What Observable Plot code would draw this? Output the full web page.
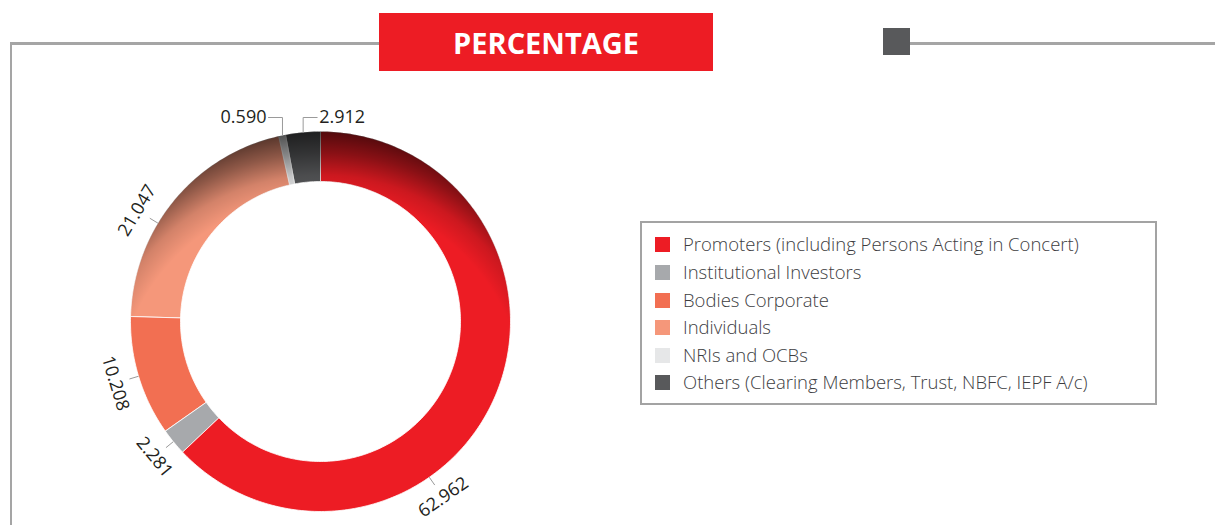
<!DOCTYPE html>
<html>
<head>
<meta charset="utf-8">
<script src="https://cdn.jsdelivr.net/npm/d3@7"></script>
<script src="https://cdn.jsdelivr.net/npm/@observablehq/plot@0.6"></script>
<style>
  body { margin: 0; background: #fff; }
  #wrap { position: relative; width: 1215px; height: 525px; overflow: hidden; background: #fff; font-family: "Open Sans", sans-serif; }
  .abs { position: absolute; }
  #legend { position: absolute; left: 640px; top: 221px; width: 517px; height: 184px; box-sizing: border-box; border: 2px solid #a3a3a3; }
  .row { position: absolute; left: 13px; height: 16px; display: flex; align-items: center; }
  .sw { width: 15px; height: 15px; margin-right: 13px; flex: none; }
  .lt { font-size: 18.5px; font-weight: 300; color: #3d3d3f; white-space: nowrap; line-height: 16px; }
</style>
</head>
<body>
<div id="wrap">
  <div class="abs" style="left:10px;top:42px;width:369px;height:3px;background:#a5a5a5"></div>
  <div class="abs" style="left:910px;top:42px;width:305px;height:3px;background:#a5a5a5"></div>
  <div class="abs" style="left:10px;top:42px;width:2px;height:483px;background:#a5a5a5"></div>
  <div class="abs" style="left:883px;top:28px;width:27px;height:27px;background:#58595b"></div>
  <div class="abs" style="left:379px;top:13px;width:334px;height:58px;background:#ed1c24;display:flex;align-items:center;justify-content:center;">
    <span id="title" style="color:#fff;font-weight:700;font-size:29px;">PERCENTAGE</span>
  </div>
  <div id="chart" class="abs" style="left:0;top:0"></div>
  <div id="legend"></div>
</div>
<script>
// ---- data ----
const categories = [
  "Promoters (including Persons Acting in Concert)",
  "Institutional Investors",
  "Bodies Corporate",
  "Individuals",
  "NRIs and OCBs",
  "Others (Clearing Members, Trust, NBFC, IEPF A/c)"
];
const values = [62.962, 2.281, 10.208, 21.047, 0.590, 2.912];
const valueLabels = ["62.962", "2.281", "10.208", "21.047", "0.590", "2.912"];
const colors = ["#ed1c24", "#a7a9ac", "#f26f52", "#f5977a", "#e6e7e8", "#58595b"];

// ---- layout (pixels) ----
const W = 1215, H = 525, CX = 320, CY = 321, RO = 190, RI = 140;
const inner = RI / RO;
const total = d3.sum(values);

// angles (clockwise from 12 o'clock)
let acc = 0;
const slices = values.map((v, i) => {
  const a0 = acc / total * 2 * Math.PI; acc += v;
  const a1 = acc / total * 2 * Math.PI;
  return {i, name: categories[i], a0, a1};
});

// polygon points of each slice (unit radius = outer)
const slicePts = [];
for (const s of slices) {
  const n = Math.max(2, Math.ceil((s.a1 - s.a0) * 180 / Math.PI));
  for (let k = 0; k <= n; k++) {
    const t = s.a0 + (s.a1 - s.a0) * k / n;
    slicePts.push({name: s.name, x: Math.sin(t), y: Math.cos(t)});
  }
  for (let k = n; k >= 0; k--) {
    const t = s.a0 + (s.a1 - s.a0) * k / n;
    slicePts.push({name: s.name, x: inner * Math.sin(t), y: inner * Math.cos(t)});
  }
}
// full ring for the shading overlay
const ringPts = [];
for (let k = 0; k <= 360; k++) { const t = k * Math.PI / 180; ringPts.push({x: Math.sin(t), y: Math.cos(t)}); }
for (let k = 360; k >= 0; k--) { const t = k * Math.PI / 180; ringPts.push({x: inner * Math.sin(t), y: inner * Math.cos(t)}); }

// labels: radial for the larger slices, elbow leaders for the two small top slices
const labelFrac = {0: 0.64, 3: 0.39};
const elbowSide = {4: -1, 5: 1};
const radialLabels = [], ticks = [], elbows = [], leftLabels = [], rightLabels = [];
const elbowY = (CY - 117) / RO, run = 14 / RO, gap = 2 / RO;
slices.forEach((s, i) => {
  const f = labelFrac[i] ?? 0.5;
  const t = s.a0 + (s.a1 - s.a0) * f;
  const deg = t * 180 / Math.PI;
  if (elbowSide[i]) {
    const x0 = Math.sin(t), y0 = Math.cos(t);
    const dir = elbowSide[i];
    elbows.push({k: i, x: x0, y: y0}, {k: i, x: x0, y: elbowY}, {k: i, x: x0 + dir * run, y: elbowY});
    (dir < 0 ? leftLabels : rightLabels).push({x: x0 + dir * (run + gap), y: elbowY, text: valueLabels[i]});
  } else {
    const rot = deg < 270 ? deg - 180 : deg - 360;
    ticks.push({x1: Math.sin(t), y1: Math.cos(t), x2: 1.05 * Math.sin(t), y2: 1.05 * Math.cos(t)});
    radialLabels.push({x: 1.128 * Math.sin(t), y: 1.128 * Math.cos(t), text: valueLabels[i], rot});
  }
});

const chart = Plot.plot({
  width: W, height: H, margin: 0,
  style: {fontFamily: "'Open Sans', sans-serif", background: "transparent", overflow: "visible"},
  x: {domain: [-CX / RO, (W - CX) / RO], axis: null},
  y: {domain: [-(H - CY) / RO, CY / RO], axis: null},
  color: {domain: categories, range: colors},
  marks: [
    Plot.line(slicePts, {x: "x", y: "y", z: "name", fill: "name", stroke: "#fff", strokeWidth: 0.8, curve: "linear-closed"}),
    Plot.line(ringPts, {x: "x", y: "y", fill: "url(#shade)", stroke: "none", curve: "linear-closed"}),
    Plot.link(ticks, {x1: "x1", y1: "y1", x2: "x2", y2: "y2", stroke: "#9a9a9a", strokeWidth: 1}),
    Plot.line(elbows, {x: "x", y: "y", z: "k", stroke: "#9a9a9a", strokeWidth: 1}),
    Plot.text(radialLabels, {x: "x", y: "y", text: "text", rotate: "rot", textAnchor: "middle", lineAnchor: "middle", fontSize: 18, fill: "#231f20"}),
    Plot.text(leftLabels, {x: "x", y: "y", text: "text", textAnchor: "end", lineAnchor: "middle", fontSize: 18, fill: "#231f20"}),
    Plot.text(rightLabels, {x: "x", y: "y", text: "text", textAnchor: "start", lineAnchor: "middle", fontSize: 18, fill: "#231f20"})
  ]
});

// radial shading gradient (dark rim toward the top)
const sx = chart.scale("x"), sy = chart.scale("y");
const gx = sx.apply(0), gy = sy.apply(0) + 79;
const defs = d3.select(chart).insert("defs", ":first-child");
const g = defs.append("radialGradient").attr("id", "shade").attr("gradientUnits", "userSpaceOnUse")
  .attr("cx", gx).attr("cy", gy).attr("r", 275);
[[0, 0], [0.74, 0], [0.82, 0.14], [0.9, 0.42], [1, 0.72]].forEach(([o, a]) =>
  g.append("stop").attr("offset", o).attr("stop-color", "#000").attr("stop-opacity", a));

document.getElementById("chart").appendChild(chart);

// legend
const legend = document.getElementById("legend");
const rowCenters = [244, 272, 300, 327, 355, 382];
categories.forEach((c, i) => {
  const row = document.createElement("div");
  row.className = "row";
  row.style.top = (rowCenters[i] - 221 - 2 - 8) + "px";
  row.innerHTML = `<div class="sw" style="background:${colors[i]}"></div><div class="lt">${c}</div>`;
  legend.appendChild(row);
});
</script>
</body>
</html>
